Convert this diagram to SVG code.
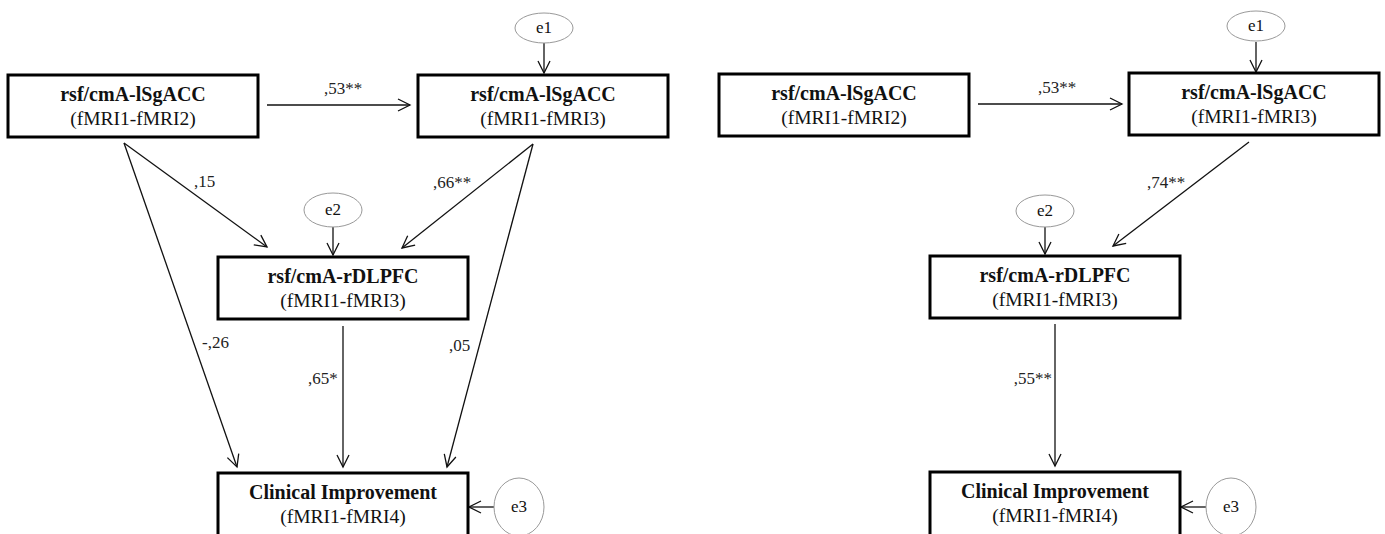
<svg xmlns="http://www.w3.org/2000/svg" width="1385" height="534" viewBox="0 0 1385 534" font-family="'Liberation Serif', 'Times New Roman', Times, serif">
<style>
text{font-family:'Liberation Serif','Times New Roman',Times,serif}
.box{fill:#fff;stroke:#000;stroke-width:3}
.t1{font-weight:bold;font-size:20px;fill:#111;text-anchor:middle}
.t2{font-size:19.5px;fill:#111;text-anchor:middle}
.err{fill:#fff;stroke:#999;stroke-width:1}
.et{font-size:17px;fill:#111;text-anchor:middle}
.lbl{font-size:17px;fill:#222}
.ar{stroke:#111;stroke-width:1.3;fill:none;marker-end:url(#ah)}
</style>
<defs>
<marker id="ah" markerUnits="userSpaceOnUse" markerWidth="14" markerHeight="14" refX="12" refY="6" orient="auto" overflow="visible">
<path d="M0,0 L12,6 L0,12" fill="none" stroke="#111" stroke-width="1.3"/>
</marker>
</defs>
<rect width="1385" height="534" fill="#fff"/>

<g id="connectors">
<line class="ar" x1="267" y1="105" x2="410" y2="105"/>
<line class="ar" x1="544" y1="43" x2="544" y2="73"/>
<line class="ar" x1="124" y1="143" x2="267" y2="247"/>
<line class="ar" x1="124" y1="143" x2="237" y2="467"/>
<line class="ar" x1="533" y1="144" x2="402" y2="248"/>
<line class="ar" x1="533" y1="144" x2="447" y2="467"/>
<line class="ar" x1="333" y1="227" x2="333" y2="255"/>
<line class="ar" x1="343" y1="326" x2="343" y2="467"/>
<line class="ar" x1="494" y1="507" x2="469" y2="507"/>

<line class="ar" x1="978" y1="104" x2="1122" y2="104"/>
<line class="ar" x1="1256" y1="42" x2="1256" y2="72"/>
<line class="ar" x1="1249" y1="142" x2="1113" y2="246"/>
<line class="ar" x1="1045" y1="227" x2="1045" y2="254"/>
<line class="ar" x1="1055" y1="324" x2="1055" y2="466"/>
<line class="ar" x1="1206" y1="507" x2="1181" y2="507"/>

<text class="lbl" x="343" y="94" text-anchor="middle">,53**</text>
<text class="lbl" x="194" y="187">,15</text>
<text class="lbl" x="202" y="348">-,26</text>
<text class="lbl" x="433" y="188">,66**</text>
<text class="lbl" x="449" y="351">,05</text>
<text class="lbl" x="308" y="384">,65*</text>

<text class="lbl" x="1057" y="93" text-anchor="middle">,53**</text>
<text class="lbl" x="1147" y="188">,74**</text>
<text class="lbl" x="1052" y="384" text-anchor="end">,55**</text>
</g>

<g id="L_A">
<rect class="box" x="8" y="75" width="250" height="62"/>
<text class="t1" x="133" y="101">rsf/cmA-lSgACC</text>
<text class="t2" x="133" y="125">(fMRI1-fMRI2)</text>
</g>
<g id="L_B">
<rect class="box" x="418" y="75" width="250" height="62"/>
<text class="t1" x="543" y="101">rsf/cmA-lSgACC</text>
<text class="t2" x="543" y="125">(fMRI1-fMRI3)</text>
</g>
<g id="L_e1">
<ellipse class="err" cx="544" cy="28" rx="29" ry="15"/>
<text class="et" x="544" y="33">e1</text>
</g>
<g id="L_C">
<rect class="box" x="218" y="257" width="250" height="62"/>
<text class="t1" x="343" y="283">rsf/cmA-rDLPFC</text>
<text class="t2" x="343" y="307">(fMRI1-fMRI3)</text>
</g>
<g id="L_e2">
<ellipse class="err" cx="333" cy="210" rx="29" ry="17"/>
<text class="et" x="333" y="215">e2</text>
</g>
<g id="L_D">
<rect class="box" x="218" y="473" width="250" height="64"/>
<text class="t1" x="343" y="499">Clinical Improvement</text>
<text class="t2" x="343" y="523">(fMRI1-fMRI4)</text>
</g>
<g id="L_e3">
<ellipse class="err" cx="519" cy="507" rx="25" ry="29"/>
<text class="et" x="519" y="512">e3</text>
</g>

<g id="R_A">
<rect class="box" x="719" y="74" width="250" height="62"/>
<text class="t1" x="844" y="100">rsf/cmA-lSgACC</text>
<text class="t2" x="844" y="124">(fMRI1-fMRI2)</text>
</g>
<g id="R_B">
<rect class="box" x="1129" y="73" width="250" height="62"/>
<text class="t1" x="1254" y="99">rsf/cmA-lSgACC</text>
<text class="t2" x="1254" y="123">(fMRI1-fMRI3)</text>
</g>
<g id="R_e1">
<ellipse class="err" cx="1256" cy="26" rx="29" ry="15"/>
<text class="et" x="1256" y="31">e1</text>
</g>
<g id="R_C">
<rect class="box" x="930" y="256" width="250" height="62"/>
<text class="t1" x="1055" y="282">rsf/cmA-rDLPFC</text>
<text class="t2" x="1055" y="306">(fMRI1-fMRI3)</text>
</g>
<g id="R_e2">
<ellipse class="err" cx="1045" cy="211" rx="29" ry="16"/>
<text class="et" x="1045" y="216">e2</text>
</g>
<g id="R_D">
<rect class="box" x="930" y="472" width="250" height="65"/>
<text class="t1" x="1055" y="498">Clinical Improvement</text>
<text class="t2" x="1055" y="522">(fMRI1-fMRI4)</text>
</g>
<g id="R_e3">
<ellipse class="err" cx="1231" cy="507" rx="25" ry="29"/>
<text class="et" x="1231" y="512">e3</text>
</g>
</svg>
